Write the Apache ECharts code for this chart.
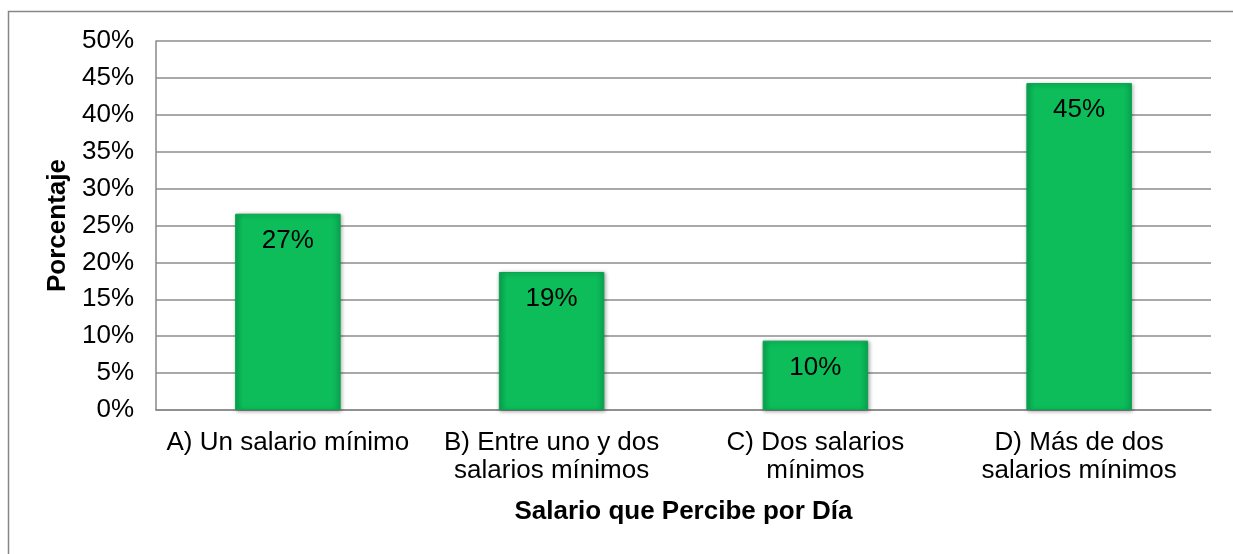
<!DOCTYPE html>
<html><head><meta charset="utf-8">
<script src="https://cdn.jsdelivr.net/npm/echarts@6/dist/echarts.min.js"></script>
<style>html,body{margin:0;padding:0;background:#fff}#c{width:1233px;height:554px}</style>
</head><body><div id="c"></div>
<script>
const categories = ['A) Un salario mínimo', 'B) Entre uno y dos\nsalarios mínimos', 'C) Dos salarios\nmínimos', 'D) Más de dos\nsalarios mínimos'];
const values = [26.6, 18.7, 9.4, 44.3];
const labels = ['27%', '19%', '10%', '45%'];
const yTicks = [0, 5, 10, 15, 20, 25, 30, 35, 40, 45, 50];
const xTitle = 'Salario que Percibe por Día';
const yTitle = 'Porcentaje';

const FONT = '"Liberation Sans", Arial, sans-serif';
const FS = 26;
const chart = echarts.init(document.getElementById('c'), null, {renderer: 'canvas'});
const barColor = new echarts.graphic.LinearGradient(0, 0, 1, 0, [
  {offset: 0, color: '#0aa852'},
  {offset: 0.08, color: '#0cbd5a'},
  {offset: 0.92, color: '#0cbd5a'},
  {offset: 1, color: '#0aa852'}
]);
chart.setOption({
  animation: false,
  graphic: [{
    type: 'rect', shape: {x: 8.5, y: 11.5, width: 1300, height: 700},
    style: {fill: 'none', stroke: '#868686', lineWidth: 1.5}, z: -1
  }],
  grid: {left: 156, right: 22, top: 41, bottom: 144, containLabel: false},
  xAxis: {
    type: 'category', data: categories,
    name: xTitle, nameLocation: 'middle', nameGap: 89,
    nameTextStyle: {fontFamily: FONT, fontSize: FS, fontWeight: 'bold', color: '#000'},
    axisLine: {lineStyle: {color: '#888', width: 1.5}},
    axisTick: {show: false},
    axisLabel: {fontFamily: FONT, fontSize: FS, color: '#000', margin: 19, lineHeight: 28, interval: 0}
  },
  yAxis: {
    type: 'value', min: yTicks[0], max: yTicks[yTicks.length - 1], interval: 5,
    name: yTitle, nameLocation: 'middle', nameGap: 84, nameRotate: 90,
    nameTextStyle: {fontFamily: FONT, fontSize: FS, fontWeight: 'bold', color: '#000'},
    axisLine: {show: true, lineStyle: {color: '#888', width: 1.5}},
    axisTick: {show: false},
    splitLine: {lineStyle: {color: '#8c8c8c', width: 1.5}},
    axisLabel: {fontFamily: FONT, fontSize: FS, color: '#000', margin: 22, formatter: v => v + '%'}
  },
  series: [{
    type: 'bar', data: values, barWidth: '40%',
    itemStyle: {color: barColor, borderColor: '#0aa34f', borderWidth: 1,
      shadowColor: 'rgba(0,0,0,0.35)', shadowBlur: 4, shadowOffsetX: 1, shadowOffsetY: 1},
    label: {show: true, position: 'insideTop', distance: 14, fontFamily: FONT, fontSize: FS, color: '#000',
      formatter: p => labels[p.dataIndex]}
  }]
});
</script></body></html>
